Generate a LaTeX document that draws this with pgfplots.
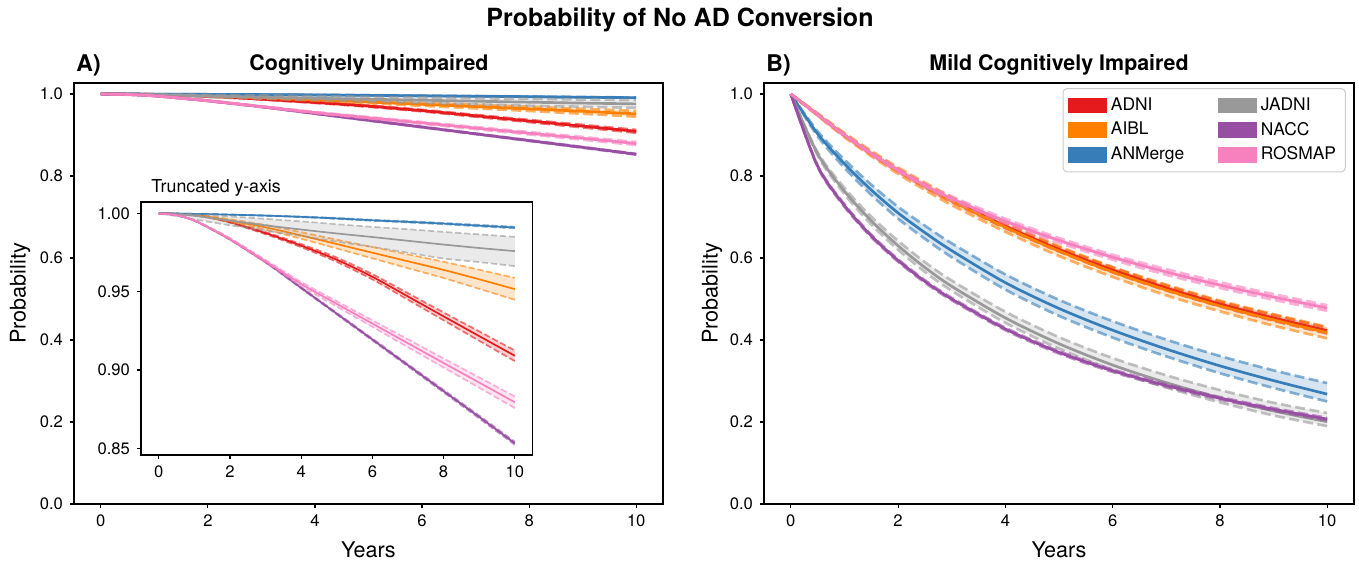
\documentclass[border=0pt]{standalone}
\usepackage{fontspec}
\setmainfont{TeX Gyre Heros}
\usepackage{pgfplots}
\usepackage{pgfplotstable}
\pgfplotsset{compat=1.18}

\definecolor{adni}{HTML}{E41A1C}
\definecolor{aibl}{HTML}{FF7F00}
\definecolor{anm}{HTML}{377EB8}
\definecolor{jad}{HTML}{999999}
\definecolor{nacc}{HTML}{984EA3}
\definecolor{rose}{HTML}{F781BF}

% Each table: t, b = band edge (upper bound forward, then lower bound backward), c = estimate
% ---------------- Panel A: Cognitively Unimpaired ----------------
\pgfplotstableread{
t b c
0 1 1
0.5 0.9999 0.9999
1 0.9993 0.9991
1.5 0.9975 0.9972
2 0.9949 0.9945
3 0.9882 0.9875
4 0.9805 0.9795
5 0.9719 0.9705
6 0.9613 0.9596
7 0.9491 0.9470
8 0.9368 0.9343
9 0.9247 0.9217
10 0.9125 0.9091
10 0.9057 nan
9 0.9187 nan
8 0.9318 nan
7 0.9449 nan
6 0.9579 nan
5 0.9691 nan
4 0.9785 nan
3 0.9868 nan
2 0.9941 nan
1.5 0.9969 nan
1 0.9989 nan
0.5 0.9999 nan
0 1 nan
}\AadniP
\pgfplotstableread{
t b c
0 1 1
0.5 0.9998 0.9997
1 0.9993 0.9990
1.5 0.9981 0.9975
2 0.9964 0.9955
3 0.9927 0.9912
4 0.9881 0.9860
5 0.9833 0.9805
6 0.9786 0.9750
7 0.9739 0.9695
8 0.9692 0.9640
9 0.9641 0.9580
10 0.9589 0.9517
10 0.9449 nan
9 0.9519 nan
8 0.9588 nan
7 0.9651 nan
6 0.9714 nan
5 0.9777 nan
4 0.9839 nan
3 0.9897 nan
2 0.9946 nan
1.5 0.9969 nan
1 0.9987 nan
0.5 0.9996 nan
0 1 nan
}\AaiblP
\pgfplotstableread{
t b c
0 1 1
0.5 1.0 1.0
1 0.9998 0.9998
1.5 0.9996 0.9996
2 0.9994 0.9993
3 0.9988 0.9987
4 0.9981 0.9979
5 0.9972 0.9969
6 0.9960 0.9957
7 0.9951 0.9947
8 0.9940 0.9936
9 0.9928 0.9923
10 0.9916 0.9911
10 0.9906 nan
9 0.9918 nan
8 0.9932 nan
7 0.9943 nan
6 0.9954 nan
5 0.9966 nan
4 0.9977 nan
3 0.9986 nan
2 0.9992 nan
1.5 0.9996 nan
1 0.9998 nan
0.5 1.0 nan
0 1 nan
}\AanmP
\pgfplotstableread{
t b c
0 1 1
0.5 1.0 0.9996
1 0.9996 0.9986
1.5 0.9990 0.9971
2 0.9982 0.9955
3 0.9966 0.9925
4 0.9950 0.9898
5 0.9932 0.9873
6 0.9915 0.9850
7 0.9900 0.9826
8 0.9883 0.9802
9 0.9867 0.9780
10 0.9851 0.9760
10 0.9664 nan
9 0.9690 nan
8 0.9713 nan
7 0.9750 nan
6 0.9787 nan
5 0.9820 nan
4 0.9857 nan
3 0.9890 nan
2 0.9925 nan
1.5 0.9944 nan
1 0.9963 nan
0.5 0.9984 nan
0 1 nan
}\AjadP
\pgfplotstableread{
t b c
0 1 1
0.5 0.9990 0.9990
1 0.9956 0.9955
1.5 0.9900 0.9898
2 0.9837 0.9835
3 0.9693 0.9690
4 0.9529 0.9525
5 0.9365 0.9360
6 0.9201 0.9195
7 0.9037 0.9030
8 0.8873 0.8865
9 0.8709 0.8700
10 0.8542 0.8532
10 0.8522 nan
9 0.8691 nan
8 0.8857 nan
7 0.9023 nan
6 0.9189 nan
5 0.9355 nan
4 0.9521 nan
3 0.9687 nan
2 0.9833 nan
1.5 0.9896 nan
1 0.9954 nan
0.5 0.9990 nan
0 1 nan
}\AnaccP
\pgfplotstableread{
t b c
0 1 1
0.5 0.9991 0.9990
1 0.9958 0.9956
1.5 0.9904 0.9900
2 0.9844 0.9838
3 0.9704 0.9695
4 0.9563 0.9550
5 0.9440 0.9423
6 0.9318 0.9297
7 0.9196 0.9171
8 0.9074 0.9045
9 0.8953 0.8920
10 0.8831 0.8794
10 0.8757 nan
9 0.8887 nan
8 0.9016 nan
7 0.9146 nan
6 0.9276 nan
5 0.9406 nan
4 0.9537 nan
3 0.9686 nan
2 0.9832 nan
1.5 0.9896 nan
1 0.9954 nan
0.5 0.9989 nan
0 1 nan
}\AroseP

% ---------------- Panel B: Mild Cognitively Impaired ----------------
\pgfplotstableread{
t b c
0 1 1
0.5 0.951 0.950
1 0.902 0.900
1.5 0.8575 0.855
2 0.817 0.814
2.5 0.7795 0.776
3 0.745 0.741
4 0.683 0.678
5 0.626 0.621
6 0.577 0.571
7 0.533 0.527
8 0.494 0.488
9 0.461 0.454
10 0.430 0.423
10 0.416 nan
9 0.447 nan
8 0.482 nan
7 0.521 nan
6 0.565 nan
5 0.616 nan
4 0.673 nan
3 0.737 nan
2.5 0.7725 nan
2 0.811 nan
1.5 0.8525 nan
1 0.898 nan
0.5 0.949 nan
0 1 nan
}\BadniP
\pgfplotstableread{
t b c
0 1 1
0.5 0.953 0.950
1 0.905 0.900
1.5 0.8615 0.855
2 0.821 0.813
2.5 0.784 0.775
3 0.749 0.739
4 0.686 0.675
5 0.629 0.617
6 0.578 0.566
7 0.535 0.522
8 0.496 0.483
9 0.463 0.449
10 0.432 0.418
10 0.404 nan
9 0.435 nan
8 0.470 nan
7 0.509 nan
6 0.554 nan
5 0.605 nan
4 0.664 nan
3 0.729 nan
2.5 0.766 nan
2 0.805 nan
1.5 0.8485 nan
1 0.895 nan
0.5 0.947 nan
0 1 nan
}\BaiblP
\pgfplotstableread{
t b c
0 1 1
0.5 0.909 0.903
1 0.840 0.830
1.5 0.779 0.766
2 0.725 0.710
2.5 0.679 0.662
3 0.636 0.618
4 0.560 0.540
5 0.498 0.477
6 0.446 0.424
7 0.401 0.378
8 0.361 0.337
9 0.326 0.301
10 0.295 0.268
10 0.250 nan
9 0.283 nan
8 0.319 nan
7 0.360 nan
6 0.406 nan
5 0.459 nan
4 0.523 nan
3 0.602 nan
2.5 0.647 nan
2 0.696 nan
1.5 0.754 nan
1 0.820 nan
0.5 0.897 nan
0 1 nan
}\BanmP
\pgfplotstableread{
t b c
0 1 1
0.5 0.858 0.854
1 0.771 0.763
1.5 0.701 0.691
2 0.642 0.630
2.5 0.590 0.577
3 0.545 0.531
4 0.469 0.454
5 0.407 0.391
6 0.356 0.339
7 0.314 0.296
8 0.278 0.259
9 0.247 0.227
10 0.222 0.2007
10 0.190 nan
9 0.216 nan
8 0.248 nan
7 0.284 nan
6 0.327 nan
5 0.379 nan
4 0.442 nan
3 0.520 nan
2.5 0.566 nan
2 0.620 nan
1.5 0.682 nan
1 0.756 nan
0.5 0.850 nan
0 1 nan
}\BjadP
\pgfplotstableread{
t b c
0 1 1
0.5 0.826 0.824
1 0.731 0.728
1.5 0.657 0.654
2 0.597 0.594
2.5 0.546 0.543
3 0.503 0.500
4 0.430 0.427
5 0.373 0.370
6 0.328 0.325
7 0.292 0.289
8 0.261 0.258
9 0.234 0.231
10 0.210 0.207
10 0.204 nan
9 0.228 nan
8 0.255 nan
7 0.286 nan
6 0.322 nan
5 0.367 nan
4 0.424 nan
3 0.497 nan
2.5 0.540 nan
2 0.591 nan
1.5 0.651 nan
1 0.725 nan
0.5 0.822 nan
0 1 nan
}\BnaccP
\pgfplotstableread{
t b c
0 1 1
0.5 0.952 0.950
1 0.903 0.900
1.5 0.8585 0.855
2 0.818 0.814
2.5 0.7815 0.777
3 0.750 0.745
4 0.696 0.690
5 0.649 0.643
6 0.608 0.602
7 0.573 0.566
8 0.541 0.534
9 0.512 0.505
10 0.485 0.478
10 0.471 nan
9 0.498 nan
8 0.527 nan
7 0.559 nan
6 0.596 nan
5 0.637 nan
4 0.684 nan
3 0.740 nan
2.5 0.7725 nan
2 0.810 nan
1.5 0.8515 nan
1 0.897 nan
0.5 0.948 nan
0 1 nan
}\BroseP

% band: #1 table, #2 colour, #3 rows in the upper half, #4 line width, #5 dash on, #6 dash off
\newcommand{\band}[6]{%
\addplot[fill=#2, fill opacity=0.2, draw=none, forget plot] table[x=t,y=b]{#1};
\addplot[draw=#2, draw opacity=0.6, line width=#4, dash pattern=on #5 off #6, smooth, forget plot, skip coords between index={#3}{200}] table[x=t,y=b]{#1};
\addplot[draw=#2, draw opacity=0.6, line width=#4, dash pattern=on #5 off #6, smooth, forget plot, skip coords between index={0}{#3}] table[x=t,y=b]{#1};
\addplot[draw=#2, line width=#4, smooth, forget plot, unbounded coords=discard] table[x=t,y=c]{#1};
}

\pgfplotsset{
  base/.style={
    scale only axis, anchor=north west,
    xmin=-0.5, xmax=10.5, xtick={0,2,4,6,8,10},
    tick align=outside, major tick length=2pt, tick pos=left,
    axis line style={line width=0.6pt},
    every tick/.style={black, line width=0.6pt},
    /pgf/number format/assume math mode=true,
    tick label style={font=\fontsize{8.3}{10}\selectfont},
    legend image code/.code={\fill[##1, sharp corners] (0pt,-3.7pt) rectangle (18.8pt,3.7pt);},
  }
}

\begin{document}
\begin{tikzpicture}
\path[use as bounding box] (0,0) rectangle (679.5pt,-280.5pt);

% ---- Panel A
\begin{axis}[base, at={(37pt,-41.5pt)}, width=294.5pt, height=210.5pt,
  ymin=0, ymax=1.027, ytick={0,0.2,0.4,0.6,0.8,1},
  yticklabel style={/pgf/number format/.cd,fixed,fixed zerofill,precision=1}]
\band{\AadniP}{adni}{13}{1.35pt}{5pt}{2.2pt}
\band{\AaiblP}{aibl}{13}{1.35pt}{5pt}{2.2pt}
\band{\AanmP}{anm}{13}{1.35pt}{5pt}{2.2pt}
\band{\AjadP}{jad}{13}{1.35pt}{5pt}{2.2pt}
\band{\AnaccP}{nacc}{13}{1.35pt}{5pt}{2.2pt}
\band{\AroseP}{rose}{13}{1.35pt}{5pt}{2.2pt}
\end{axis}

% ---- Inset
\begin{axis}[base, at={(70.5pt,-101pt)}, width=195.8pt, height=126.5pt,
  axis background/.style={fill=white},
  ymin=0.8457, ymax=1.0074, ytick={0.85,0.90,0.95,1.00},
  yticklabel style={/pgf/number format/.cd,fixed,fixed zerofill,precision=2}]
\band{\AadniP}{adni}{13}{0.85pt}{3.1pt}{1.4pt}
\band{\AaiblP}{aibl}{13}{0.85pt}{3.1pt}{1.4pt}
\band{\AanmP}{anm}{13}{0.85pt}{3.1pt}{1.4pt}
\band{\AjadP}{jad}{13}{0.85pt}{3.1pt}{1.4pt}
\band{\AnaccP}{nacc}{13}{0.85pt}{3.1pt}{1.4pt}
\band{\AroseP}{rose}{13}{0.85pt}{3.1pt}{1.4pt}
\end{axis}

% ---- Panel B
\begin{axis}[base, at={(382pt,-41.5pt)}, width=295pt, height=210.5pt,
  ymin=0, ymax=1.027, ytick={0,0.2,0.4,0.6,0.8,1},
  yticklabel style={/pgf/number format/.cd,fixed,fixed zerofill,precision=1},
  legend columns=3, transpose legend, legend cell align=left,
  legend style={at={(0.986,0.988)}, anchor=north east, draw=black!20, rounded corners=2pt,
    line width=0.5pt, font=\fontsize{8.7}{10}\selectfont, inner sep=2.6pt, row sep=0.3pt,
    /tikz/every even column/.append style={column sep=15pt}}]
\addlegendimage{adni}\addlegendentry{ADNI}
\addlegendimage{aibl}\addlegendentry{AIBL}
\addlegendimage{anm}\addlegendentry{ANMerge}
\addlegendimage{jad}\addlegendentry{JADNI}
\addlegendimage{nacc}\addlegendentry{NACC}
\addlegendimage{rose}\addlegendentry{ROSMAP}
\band{\BadniP}{adni}{14}{1.35pt}{5pt}{2.2pt}
\band{\BaiblP}{aibl}{14}{1.35pt}{5pt}{2.2pt}
\band{\BanmP}{anm}{14}{1.35pt}{5pt}{2.2pt}
\band{\BjadP}{jad}{14}{1.35pt}{5pt}{2.2pt}
\band{\BnaccP}{nacc}{14}{1.35pt}{5pt}{2.2pt}
\band{\BroseP}{rose}{14}{1.35pt}{5pt}{2.2pt}
\end{axis}

% ---- Texts
\node[anchor=base, font=\bfseries\fontsize{12.5}{15}\selectfont] at (340pt,-13.5pt) {Probability of No AD Conversion};
\node[anchor=base west, inner sep=0pt, font=\bfseries\fontsize{11.5}{14}\selectfont] at (38pt,-36pt) {A)};
\node[anchor=base, font=\bfseries\fontsize{10.7}{13}\selectfont] at (184.5pt,-35.5pt) {Cognitively Unimpaired};
\node[anchor=base west, inner sep=0pt, font=\bfseries\fontsize{11.5}{14}\selectfont] at (383pt,-36pt) {B)};
\node[anchor=base, font=\bfseries\fontsize{10.7}{13}\selectfont] at (529.5pt,-35.5pt) {Mild Cognitively Impaired};
\node[anchor=base west, inner sep=0pt, font=\fontsize{8.9}{11}\selectfont] at (75.5pt,-96.5pt) {Truncated y-axis};
\node[rotate=90, font=\fontsize{10.8}{13}\selectfont] at (10pt,-146.75pt) {Probability};
\node[rotate=90, font=\fontsize{10.8}{13}\selectfont] at (356pt,-146.75pt) {Probability};
\node[anchor=base, font=\fontsize{10.8}{13}\selectfont] at (184.25pt,-278.5pt) {Years};
\node[anchor=base, font=\fontsize{10.8}{13}\selectfont] at (529.5pt,-278.5pt) {Years};
\end{tikzpicture}
\end{document}
